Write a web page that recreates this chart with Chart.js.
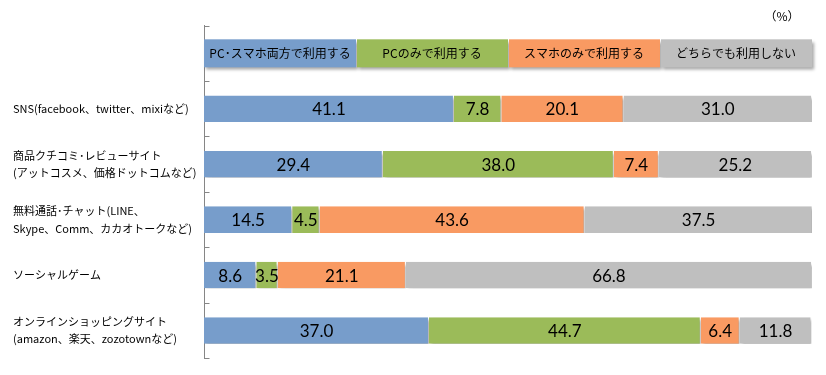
<!DOCTYPE html>
<html><head><meta charset="utf-8">
<script src="https://cdn.jsdelivr.net/npm/chart.js@4"></script>
<style>html,body{margin:0;padding:0;background:#fff}#wrap{width:826px;height:375px;position:relative}</style>
</head><body><div id="wrap"><canvas id="c" width="826" height="375"></canvas></div>
<script>
const categories = [
  ['SNS(facebook、twitter、mixiなど)'],
  ['商品クチコミ･レビューサイト', '(アットコスメ、価格ドットコムなど)'],
  ['無料通話･チャット(LINE、', 'Skype、Comm、カカオトークなど)'],
  ['ソーシャルゲーム'],
  ['オンラインショッピングサイト', '(amazon、楽天、zozotownなど)']
];
const seriesNames = ['PC･スマホ両方で利用する', 'PCのみで利用する', 'スマホのみで利用する', 'どちらでも利用しない'];
const bothValues  = [41.1, 29.4, 14.5, 8.6, 37.0];
const pcOnly      = [7.8, 38.0, 4.5, 3.5, 44.7];
const phoneOnly   = [20.1, 7.4, 43.6, 21.1, 6.4];
const neither     = [31.0, 25.2, 37.5, 66.8, 11.8];
const unitLabel = '（%）';
const colors = ['#779DCB', '#9BBB59', '#F99A62', '#BFBFBF'];

const FONT_JP = '"Noto Sans CJK JP", "Noto Sans", sans-serif';
const allLabels = [''].concat(categories);
const series = [bothValues, pcOnly, phoneOnly, neither];

const shadowPlugin = {
  id: 'shadow',
  beforeDatasetsDraw(chart) {
    const ctx = chart.ctx;
    ctx.save();
    ctx.shadowColor = 'rgba(0,0,0,0.35)';
    ctx.shadowBlur = 3;
    ctx.shadowOffsetX = 2;
    ctx.shadowOffsetY = 3;
  },
  afterDatasetsDraw(chart) {
    const ctx = chart.ctx;
    ctx.restore();
    ctx.save();
    ctx.font = '17px Lato, "Liberation Sans", sans-serif';
    ctx.fillStyle = '#000';
    ctx.textAlign = 'center';
    ctx.textBaseline = 'middle';
    chart.data.datasets.forEach((ds, di) => {
      const meta = chart.getDatasetMeta(di);
      meta.data.forEach((bar, i) => {
        const v = ds.data[i];
        if (v == null) return;
        const x = (bar.base + bar.x) / 2;
        ctx.fillText(v.toFixed(1), x, bar.y + 1);
      });
    });
    ctx.restore();
  }
};

const headerPlugin = {
  id: 'header',
  afterDraw(chart) {
    const ctx = chart.ctx;
    const xs = chart.scales.x, ys = chart.scales.y;
    const yc = ys.getPixelForValue(0);
    const h = 28;
    const n = seriesNames.length;
    ctx.save();
    ctx.shadowColor = 'rgba(0,0,0,0.35)';
    ctx.shadowBlur = 3;
    ctx.shadowOffsetX = 2;
    ctx.shadowOffsetY = 3;
    for (let i = 0; i < n; i++) {
      const x0 = xs.getPixelForValue(100 * i / n);
      const x1 = xs.getPixelForValue(100 * (i + 1) / n);
      ctx.fillStyle = colors[i];
      ctx.fillRect(x0 + (i ? 1 : 0), yc - h / 2, x1 - x0 - (i ? 1 : 0), h);
    }
    ctx.shadowColor = 'transparent';
    ctx.font = '12px ' + FONT_JP;
    ctx.fillStyle = '#000';
    ctx.textAlign = 'center';
    ctx.textBaseline = 'middle';
    for (let i = 0; i < n; i++) {
      const x0 = xs.getPixelForValue(100 * i / n);
      const x1 = xs.getPixelForValue(100 * (i + 1) / n);
      ctx.fillText(seriesNames[i], (x0 + x1) / 2, yc);
    }
    ctx.font = '12px ' + FONT_JP;
    ctx.fillText(unitLabel, 782, 16);
    ctx.strokeStyle = '#868686';
    ctx.lineWidth = 1;
    const ax = Math.round(chart.chartArea.left) + 0.5;
    const step = ys.getPixelForValue(1) - ys.getPixelForValue(0);
    for (let i = 0; i <= allLabels.length; i++) {
      let y = ys.getPixelForValue(0) - step / 2 + i * step;
      y = Math.round(y) + 0.5;
      ctx.beginPath();
      ctx.moveTo(ax, y);
      ctx.lineTo(ax + 5, y);
      ctx.stroke();
    }
    ctx.restore();
  }
};

new Chart(document.getElementById('c'), {
  type: 'bar',
  data: {
    labels: allLabels,
    datasets: series.map((vals, i) => ({
      label: seriesNames[i],
      data: [null].concat(vals),
      backgroundColor: colors[i],
      borderColor: '#ffffff',
      borderWidth: {left: 0, right: 1, top: 0, bottom: 0},
      borderSkipped: false,
      barPercentage: 0.48,
      categoryPercentage: 1.0
    }))
  },
  options: {
    indexAxis: 'y',
    responsive: false,
    animation: false,
    layout: { padding: { left: 13, right: 14, top: 16, bottom: 11 } },
    plugins: { legend: { display: false }, tooltip: { enabled: false } },
    scales: {
      x: { stacked: true, min: 0, max: 100, display: false },
      y: {
        stacked: true,
        grid: { display: false, drawTicks: false },
        border: { display: true, color: '#868686', width: 1 },
        ticks: {
          crossAlign: 'far',
          padding: 8,
          color: '#000',
          font: { family: FONT_JP, size: 11, lineHeight: 1.6 }
        },
        afterFit(scale) { scale.width = 191; }
      }
    }
  },
  plugins: [shadowPlugin, headerPlugin]
});
</script></body></html>
